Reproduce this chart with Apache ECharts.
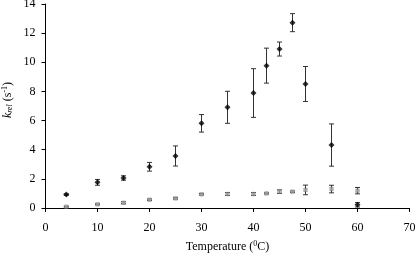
<!DOCTYPE html>
<html><head><meta charset="utf-8">
<script src="https://cdn.jsdelivr.net/npm/echarts@6/dist/echarts.min.js"></script>
<style>html,body{margin:0;padding:0;background:#fff}#c{width:416px;height:253px}</style>
</head><body><div id="c"></div>
<script>
var temps = [4, 10, 15, 20, 25, 30, 35, 40, 42.5, 45, 47.5, 50, 55, 60];
var kA = [0.92, 1.76, 2.06, 2.83, 3.57, 5.81, 6.91, 7.89, 9.77, 10.91, 12.72, 8.51, 4.32, 0.22];
var errA = [0.05, 0.2, 0.15, 0.3, 0.69, 0.6, 1.1, 1.67, 1.2, 0.48, 0.62, 1.2, 1.45, 0.15];
var kB = [0.09, 0.25, 0.36, 0.57, 0.66, 0.94, 0.96, 0.96, 1.0, 1.12, 1.12, 1.24, 1.30, 1.19];
var errB = [0.03, 0.03, 0.07, 0.05, 0.05, 0.05, 0.1, 0.1, 0.04, 0.12, 0.05, 0.33, 0.26, 0.22];
var xTicks = [0, 10, 20, 30, 40, 50, 60, 70];
var yTicks = [0, 2, 4, 6, 8, 10, 12, 14];

function errData(xs, ys, es) {
  return xs.map(function (x, i) { return [x, ys[i] - es[i], ys[i] + es[i]]; });
}
function renderErr(params, api) {
  var x = api.value(0);
  var lo = api.coord([x, api.value(1)]);
  var hi = api.coord([x, api.value(2)]);
  var w = 2.5;
  var st = { stroke: '#333', lineWidth: 1 };
  return { type: 'group', children: [
    { type: 'line', shape: { x1: lo[0], y1: lo[1], x2: hi[0], y2: hi[1] }, style: st },
    { type: 'line', shape: { x1: lo[0] - w, y1: lo[1], x2: lo[0] + w, y2: lo[1] }, style: st },
    { type: 'line', shape: { x1: hi[0] - w, y1: hi[1], x2: hi[0] + w, y2: hi[1] }, style: st }
  ]};
}
var font = 'Liberation Serif, Times New Roman, serif';
var chart = echarts.init(document.getElementById('c'));
chart.setOption({
  animation: false,
  grid: { left: 45.5, right: 6.5, top: 4, bottom: 45, containLabel: false, outerBoundsMode: 'none' },
  xAxis: {
    type: 'value', min: 0, max: 70, interval: 10,
    name: 'Temperature ({sup|0}C)', nameLocation: 'middle', nameGap: 32, nameMoveOverlap: false,
    nameTextStyle: { fontFamily: font, fontSize: 12, color: '#000',
      rich: { sup: { fontFamily: font, fontSize: 8, color: '#000', padding: [0, 0, 6, 0] } } },
    axisLine: { lineStyle: { color: '#000', width: 1 } },
    axisTick: { show: true, inside: false, length: 4, lineStyle: { color: '#000' } },
    axisLabel: { fontFamily: font, fontSize: 12, color: '#000', margin: 14,
      formatter: function (v) { return xTicks.indexOf(v) >= 0 ? String(v) : ''; } },
    splitLine: { show: false }
  },
  yAxis: {
    type: 'value', min: 0, max: 14, interval: 2,
    name: '{i|k}{sub|rel} (s{sup|-1})', nameLocation: 'middle', nameGap: 31, nameRotate: 90,
    nameMoveOverlap: false,
    nameTextStyle: { fontFamily: font, fontSize: 12, color: '#000', padding: [0, 0, 0, 12],
      rich: {
        i: { fontFamily: font, fontSize: 12, fontStyle: 'italic', color: '#000' },
        sub: { fontFamily: font, fontSize: 8, fontStyle: 'italic', color: '#000', padding: [5, 0, 0, 0] },
        sup: { fontFamily: font, fontSize: 8, color: '#000', padding: [0, 0, 6, 0] }
      } },
    axisLine: { show: true, lineStyle: { color: '#000', width: 1 } },
    axisTick: { show: true, inside: false, length: 4, lineStyle: { color: '#000' } },
    axisLabel: { fontFamily: font, fontSize: 12, color: '#000', margin: 10,
      formatter: function (v) { return yTicks.indexOf(v) >= 0 ? String(v) : ''; } },
    splitLine: { show: false }
  },
  series: [
    { type: 'custom', renderItem: renderErr, data: errData(temps, kA, errA), z: 1, silent: true },
    { type: 'custom', renderItem: renderErr, data: errData(temps, kB, errB), z: 1, silent: true },
    { type: 'scatter', symbol: 'diamond', symbolSize: 6, z: 3,
      itemStyle: { color: '#000' },
      data: temps.map(function (t, i) { return [t, kA[i]]; }) },
    { type: 'scatter', symbol: 'rect', symbolSize: 3.5, z: 3,
      itemStyle: { color: '#aaa', borderColor: '#666', borderWidth: 0.5 },
      data: temps.map(function (t, i) { return [t, kB[i]]; }) }
  ]
});
</script></body></html>
